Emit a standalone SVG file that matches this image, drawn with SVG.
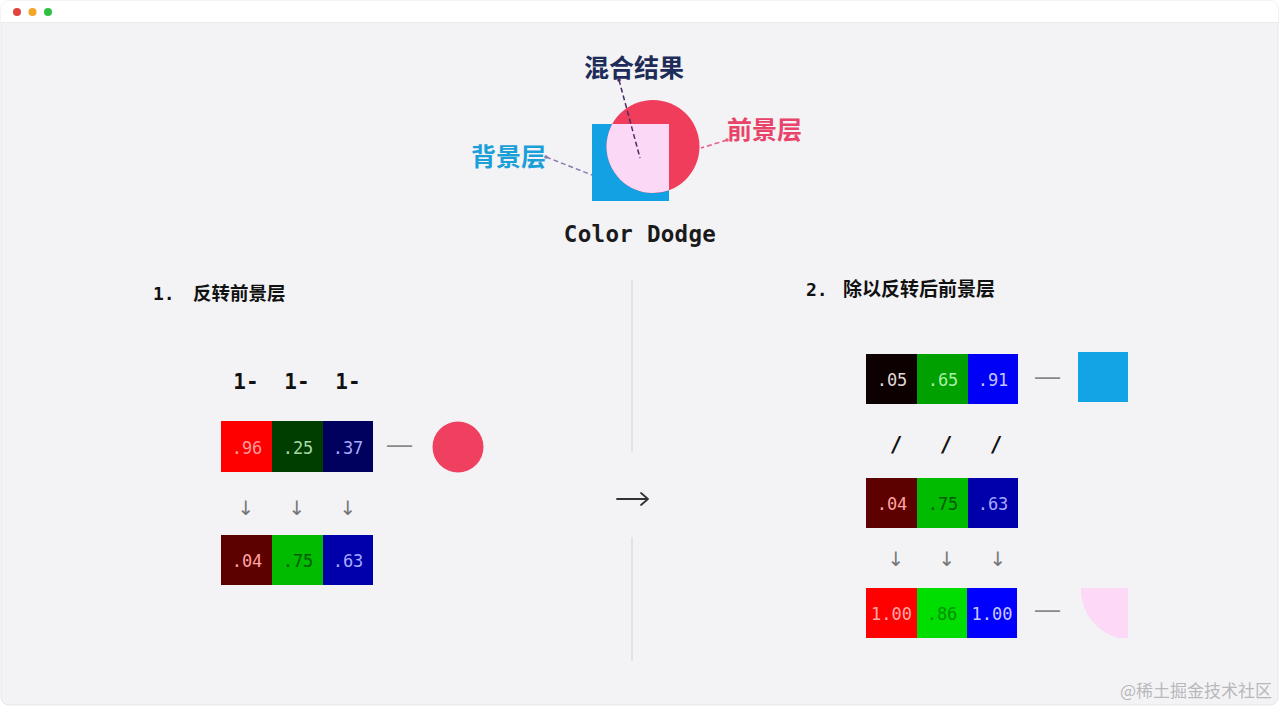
<svg xmlns="http://www.w3.org/2000/svg" width="1280" height="707" viewBox="0 0 1280 707">
<style>
.cjk{font-family:"Noto Sans CJK SC","Noto Sans",sans-serif;font-weight:700}
.mono{font-family:"DejaVu Sans Mono","Liberation Mono",monospace}
.cell{font-family:"DejaVu Sans Mono","Liberation Mono",monospace;font-size:17px;text-anchor:middle}
.op{font-family:"DejaVu Sans Mono","Liberation Mono",monospace;font-size:21px;font-weight:700;text-anchor:middle;fill:#111}
.arr{font-family:"DejaVu Sans",sans-serif;font-size:20px;text-anchor:middle;fill:#777}
.lead{fill:none;stroke-width:1.5;stroke-dasharray:5 3}
.div{stroke:#dddddf;stroke-width:1.5}
</style>
<defs>
<clipPath id="sq"><rect x="592" y="124" width="77" height="77"/></clipPath>
</defs>
<rect x="0" y="0" width="1280" height="707" fill="#ffffff"/>
<rect x="1" y="1" width="1277" height="704" rx="8" fill="#f3f3f5" stroke="#e6e6e8"/>
<path d="M1 22 V9 a8 8 0 0 1 8 -8 H1270 a8 8 0 0 1 8 8 V22 Z" fill="#ffffff"/>
<line x1="1" y1="22.5" x2="1278" y2="22.5" stroke="#ececee"/>
<circle cx="17" cy="12" r="4" fill="#e0443a"/>
<circle cx="32.5" cy="12" r="4" fill="#f3a526"/>
<circle cx="48" cy="12" r="4" fill="#2fc043"/>

<g id="blend-figure">
<rect x="592" y="124" width="77" height="77" fill="#12a1e3"/>
<circle cx="653" cy="146.5" r="46.5" fill="#f03d5c"/>
<circle cx="653" cy="146.5" r="46.5" fill="#fbd8f6" clip-path="url(#sq)"/>
</g>

<g id="connectors">
<line class="lead" x1="619" y1="80" x2="640" y2="158" stroke="#4a2a66"/>
<circle cx="619" cy="80" r="1.8" fill="#4a2a66"/>
<line class="lead" x1="546" y1="157" x2="592" y2="175" stroke="#8a78b0"/>
<circle cx="546" cy="157" r="1.8" fill="#8a78b0"/>
<line class="lead" x1="727" y1="140" x2="701" y2="148" stroke="#ec5a80"/>
<circle cx="727" cy="140" r="1.8" fill="#ec5a80"/>
</g>

<g id="label-result"><text class="cjk" x="634" y="77" font-size="25" fill="#1d2c59" text-anchor="middle">混合结果</text></g>
<g id="label-fg"><text class="cjk" x="727" y="139" font-size="25" fill="#e8446a">前景层</text></g>
<g id="label-bg"><text class="cjk" x="471" y="166" font-size="25" fill="#1b9fd9">背景层</text></g>
<g id="title"><text class="mono" x="640" y="242" font-size="22.5" font-weight="700" fill="#1a1a1a" text-anchor="middle" letter-spacing="0.3">Color Dodge</text></g>

<g id="step1-title">
<text class="mono" x="153" y="300" font-size="18" font-weight="700" fill="#111">1.</text>
<text class="cjk" x="193" y="300" font-size="18.5" fill="#111">反转前景层</text>
</g>
<g id="step2-title">
<text class="mono" x="806" y="296" font-size="18" font-weight="700" fill="#111">2.</text>
<text class="cjk" x="843" y="296" font-size="19" fill="#111">除以反转后前景层</text>
</g>

<g id="step1">
<text class="op" x="246" y="389">1-</text>
<text class="op" x="297" y="389">1-</text>
<text class="op" x="348" y="389">1-</text>
<g id="fg-row">
<rect x="221" y="421" width="51" height="51" fill="#ff0000"/>
<rect x="272" y="421" width="51" height="51" fill="#003e00"/>
<rect x="323" y="421" width="50" height="51" fill="#00005e"/>
<text class="cell" x="247" y="454" fill="#ff9a9a">.96</text>
<text class="cell" x="298" y="454" fill="#a8d8a8">.25</text>
<text class="cell" x="348" y="454" fill="#aaaaff">.37</text>
</g>
<text x="399.5" y="453" font-family="Liberation Sans,sans-serif" font-size="25" fill="#888" text-anchor="middle">—</text>
<circle cx="458" cy="447" r="25.5" fill="#ef4060"/>
<text class="arr" x="246" y="515">↓</text>
<text class="arr" x="297" y="515">↓</text>
<text class="arr" x="348" y="515">↓</text>
<g id="inv-row">
<rect x="221" y="535" width="51" height="50" fill="#5c0000"/>
<rect x="272" y="535" width="51" height="50" fill="#00bb00"/>
<rect x="323" y="535" width="50" height="50" fill="#0000aa"/>
<text class="cell" x="247" y="567" fill="#ffa4a4">.04</text>
<text class="cell" x="298" y="567" fill="#005a00">.75</text>
<text class="cell" x="348" y="567" fill="#a8a8ff">.63</text>
</g>
</g>

<g id="divider">
<line class="div" x1="632" y1="280" x2="632" y2="452"/>
<line class="div" x1="632" y1="537" x2="632" y2="661"/>
<path d="M617 499 H648 M641 493 L648 499 L641 505" fill="none" stroke="#333" stroke-width="1.8" stroke-linecap="round" stroke-linejoin="round"/>
</g>

<g id="step2">
<g id="bg-row">
<rect x="866" y="354" width="51" height="50" fill="#0c0000"/>
<rect x="917" y="354" width="51" height="50" fill="#00a000"/>
<rect x="968" y="354" width="50" height="50" fill="#0000f6"/>
<text class="cell" x="892" y="386" fill="#e0d8d8">.05</text>
<text class="cell" x="943" y="386" fill="#a8f0a8">.65</text>
<text class="cell" x="993" y="386" fill="#c4c4ff">.91</text>
</g>
<text x="1047.5" y="385" font-family="Liberation Sans,sans-serif" font-size="25" fill="#888" text-anchor="middle">—</text>
<rect x="1078" y="352" width="50" height="50" fill="#13a4e6"/>
<text class="op" x="896" y="452">/</text>
<text class="op" x="946" y="452">/</text>
<text class="op" x="996" y="452">/</text>
<g id="inv-row2">
<rect x="866" y="478" width="51" height="50" fill="#5c0000"/>
<rect x="917" y="478" width="51" height="50" fill="#00bb00"/>
<rect x="968" y="478" width="50" height="50" fill="#0000aa"/>
<text class="cell" x="892" y="510" fill="#ffa4a4">.04</text>
<text class="cell" x="943" y="510" fill="#005a00">.75</text>
<text class="cell" x="993" y="510" fill="#a8a8ff">.63</text>
</g>
<text class="arr" x="896" y="566">↓</text>
<text class="arr" x="947" y="566">↓</text>
<text class="arr" x="998" y="566">↓</text>
<g id="result-row">
<rect x="866" y="588" width="51" height="50" fill="#ff0000"/>
<rect x="917" y="588" width="50" height="50" fill="#00dd00"/>
<rect x="967" y="588" width="50" height="50" fill="#0000ff"/>
<text class="cell" x="891.5" y="620" fill="#ffa8a8">1.00</text>
<text class="cell" x="942" y="620" fill="#009000">.86</text>
<text class="cell" x="992" y="620" fill="#c8c8ff">1.00</text>
</g>
<text x="1047.5" y="618" font-family="Liberation Sans,sans-serif" font-size="25" fill="#888" text-anchor="middle">—</text>
<path d="M1081 588 H1128 V638 H1118 A50 50 0 0 1 1081 592 Z" fill="#fdd9f7"/>
</g>

<text x="1272" y="697" font-family="Noto Sans CJK SC,sans-serif" font-size="17" fill="#b8b8bc" text-anchor="end">@稀土掘金技术社区</text>
</svg>
